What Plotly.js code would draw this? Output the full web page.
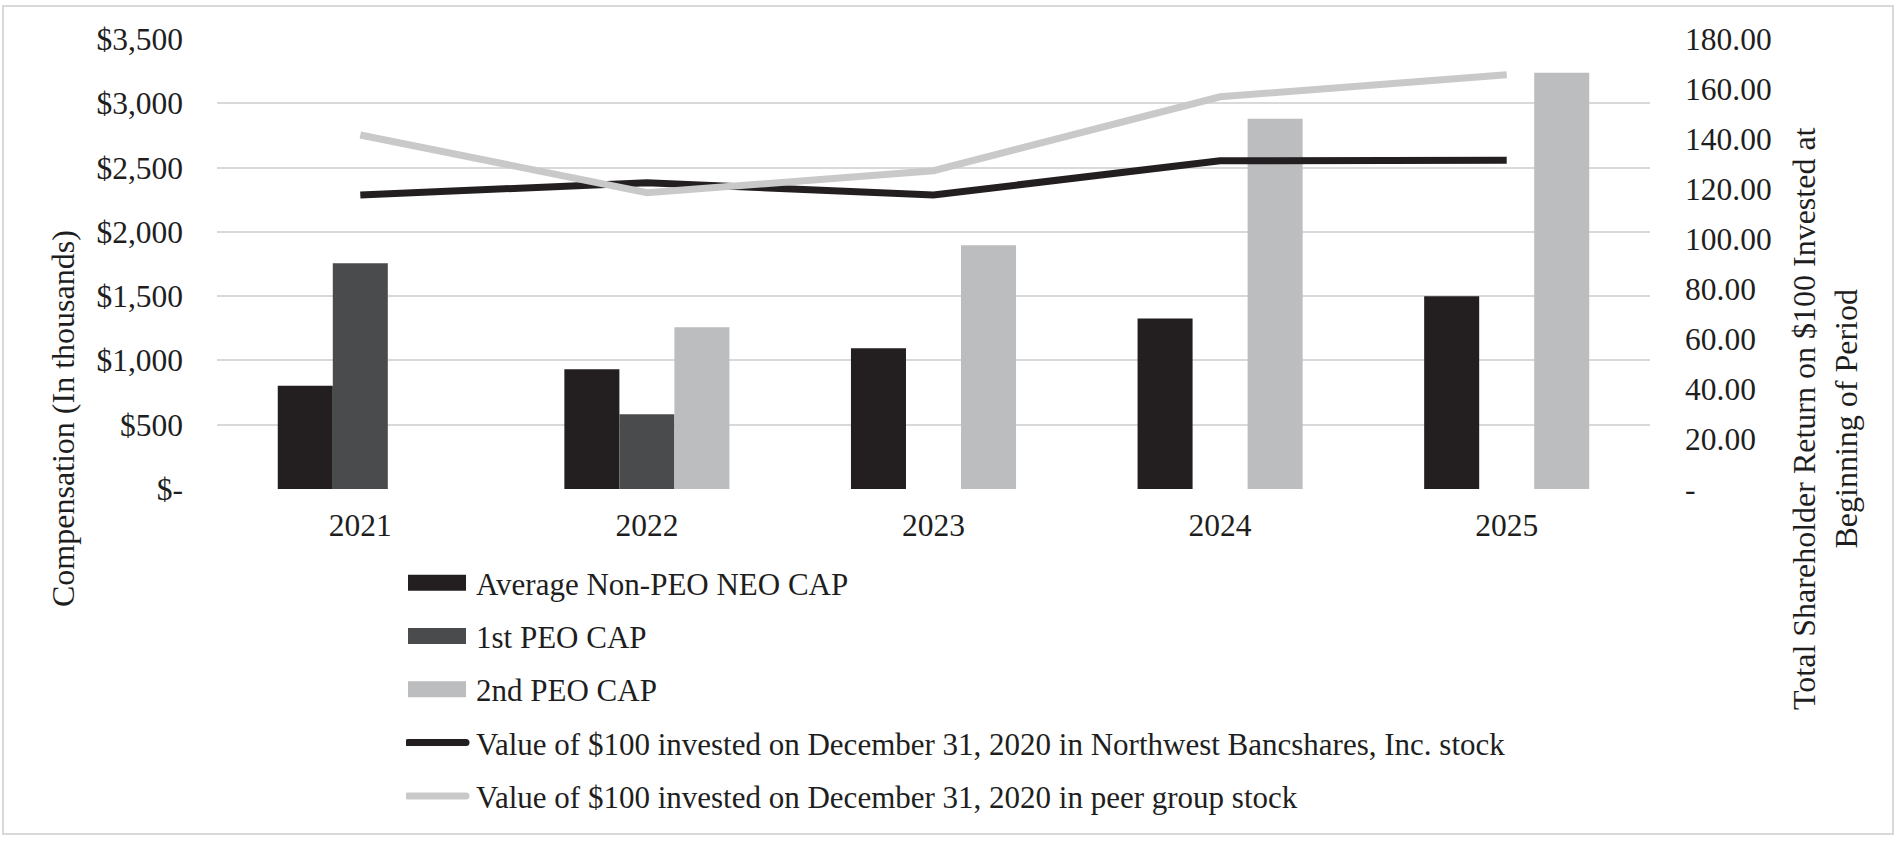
<!DOCTYPE html>
<html>
<head>
<meta charset="utf-8">
<script src="https://cdn.plot.ly/plotly-3.0.1.min.js"></script>
<style>
html,body{margin:0;padding:0;background:#fff;}
#chart{width:1901px;height:861px;}
#frame{position:absolute;left:2px;top:5px;width:1892px;height:830px;border:2px solid #d9d9d9;box-sizing:border-box;pointer-events:none;}
</style>
</head>
<body>
<div id="chart"></div>
<div id="frame"></div>
<script>
const years = ['2021', '2022', '2023', '2024', '2025'];
const nonPeoCap = [803, 931, 1094, 1327, 1500];
const peo1Cap = [1755, 581, null, null, null];
const peo2Cap = [null, 1258, 1895, 2880, 3238];
const nwTsr = [117.6, 122.5, 117.6, 131.3, 131.5];
const peerTsr = [141.6, 118.5, 127.3, 156.9, 165.7];

const leftTickVals = [0, 500, 1000, 1500, 2000, 2500, 3000, 3500];
const leftTickText = ['$-', '$500', '$1,000', '$1,500', '$2,000', '$2,500', '$3,000', '$3,500'];
const rightTickVals = [0, 20, 40, 60, 80, 100, 120, 140, 160, 180];
const rightTickText = ['-', '20.00', '40.00', '60.00', '80.00', '100.00', '120.00', '140.00', '160.00', '180.00'];

const seriesNames = [
  'Average Non-PEO NEO CAP',
  '1st PEO CAP',
  '2nd PEO CAP',
  'Value of $100 invested on December 31, 2020 in Northwest Bancshares, Inc. stock',
  'Value of $100 invested on December 31, 2020 in peer group stock'
];
const leftTitle = 'Compensation (In thousands)';
const rightTitle = 'Total Shareholder Return on $100 Invested at<br>Beginning of Period';

const FONT = 'Liberation Serif, Times New Roman, serif';
const TXT = '#1e1e1e';

const traces = [
  {type: 'bar', x: years, y: nonPeoCap, name: seriesNames[0], legendgroup: 'a',
   marker: {color: '#231f20'}},
  {type: 'bar', x: years, y: peo1Cap, name: seriesNames[1], legendgroup: 'b',
   marker: {color: '#4a4b4d'}},
  {type: 'bar', x: years, y: peo2Cap, name: seriesNames[2], legendgroup: 'c',
   marker: {color: '#bcbdbf'}},
  {type: 'scatter', mode: 'lines', x: years, y: nwTsr, name: seriesNames[3], legendgroup: 'd',
   yaxis: 'y2', line: {color: '#231f20', width: 7}},
  {type: 'scatter', mode: 'lines', x: years, y: peerTsr, name: seriesNames[4], legendgroup: 'e',
   yaxis: 'y2', line: {color: '#c9c9c9', width: 7}}
];

const layout = {
  width: 1901, height: 861,
  margin: {l: 217, r: 251, t: 39, b: 372, pad: 0},
  paper_bgcolor: '#ffffff', plot_bgcolor: '#ffffff',
  font: {family: FONT, color: TXT, size: 31},
  showlegend: true,
  barmode: 'group', bargap: 0.424, bargroupgap: 0,
  xaxis: {
    type: 'category', showgrid: false, showline: false, zeroline: false, ticks: '',
    tickfont: {family: FONT, size: 31.5, color: TXT}, ticklabelstandoff: 14
  },
  yaxis: {
    range: [0, 3500], tickvals: leftTickVals, ticktext: leftTickText,
    showgrid: true, gridcolor: '#d9d9d9', gridwidth: 2, zeroline: false, showline: false, ticks: '',
    tickfont: {family: FONT, size: 31.5, color: TXT}, ticklabelstandoff: 33
  },
  yaxis2: {
    overlaying: 'y', side: 'right', range: [0, 180],
    tickvals: rightTickVals, ticktext: rightTickText,
    showgrid: false, zeroline: false, showline: false, ticks: '',
    tickfont: {family: FONT, size: 31.5, color: TXT}, ticklabelstandoff: 34
  },
  legend: {
    orientation: 'v', x: 0.1319, xanchor: 'left', y: -0.149, yanchor: 'top',
    font: {family: FONT, size: 31, color: TXT}, bgcolor: 'rgba(0,0,0,0)',
    itemwidth: 60, tracegroupgap: 10, traceorder: 'grouped'
  },
  annotations: [
    {text: leftTitle, xref: 'paper', yref: 'paper', x: (63 - 217) / 1433, y: (489 - 419) / 450,
     xanchor: 'center', yanchor: 'middle', textangle: -90, showarrow: false,
     font: {family: FONT, size: 32, color: TXT}},
    {text: rightTitle, xref: 'paper', yref: 'paper', x: (1825 - 217) / 1433, y: (489 - 419) / 450,
     xanchor: 'center', yanchor: 'middle', textangle: -90, showarrow: false,
     font: {family: FONT, size: 32, color: TXT}}
  ]
};

function fixLegendSymbols(gd) {
  gd.querySelectorAll('.legend .traces').forEach(function (t) {
    t.querySelectorAll('.legendpoints path').forEach(function (p) {
      p.setAttribute('d', 'M2,-8H60V8H2Z');
      p.removeAttribute('transform');
    });
    t.querySelectorAll('.legendlines path').forEach(function (p) {
      p.setAttribute('d', 'M2,0H60');
      p.style.strokeLinecap = 'round';
    });
  });
}

Plotly.newPlot('chart', traces, layout, {displayModeBar: false, staticPlot: true}).then(function (gd) {
  fixLegendSymbols(gd);
  gd.on('plotly_afterplot', function () { fixLegendSymbols(gd); });
  setTimeout(function () { fixLegendSymbols(gd); }, 50);
});
</script>
</body>
</html>
